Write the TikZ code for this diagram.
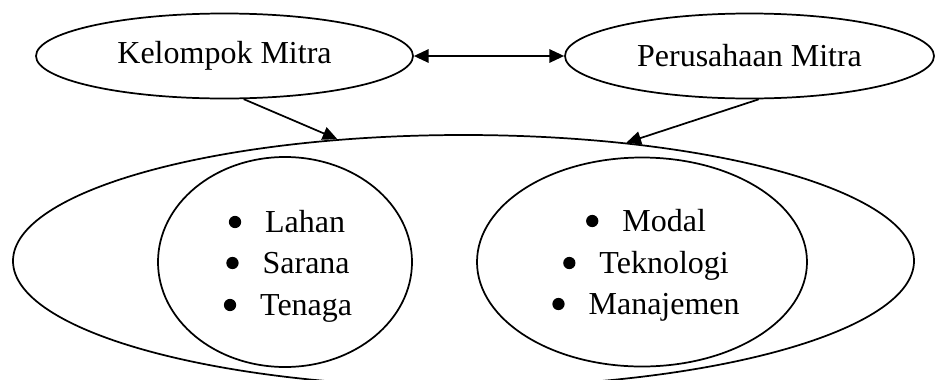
\documentclass[tikz,border=0pt]{standalone}
\usepackage{fontspec}
\setmainfont{Liberation Serif}
\usetikzlibrary{shapes.geometric,arrows.meta}
% round list marker, centred at mid height of the lower-case letters
\newcommand{\dotmark}{\tikz[x=1pt,y=1pt,baseline=-7.5pt]\fill (0,0) circle (4.6pt);}
\begin{document}
\begin{tikzpicture}[x=0.75pt,y=-0.75pt,
  line width=1.3pt,
  oval/.style={draw,ellipse,inner sep=0pt,font=\fontsize{24}{30}\selectfont},
  item/.style={anchor=base,inner sep=0pt,font=\fontsize{24}{30}\selectfont},
  link/.style={-{Triangle[length=11pt,width=10pt]}},
  both/.style={{Triangle[length=11pt,width=10pt]}-{Triangle[length=11pt,width=10pt]}}]
\useasboundingbox (0,0) rectangle (935,379);

% partner nodes
\node[oval,minimum width=282.75pt,minimum height=63.75pt] (km) at (224.5,56) {Kelompok Mitra};
\node[oval,minimum width=276.75pt,minimum height=63.75pt] (pm) at (749.5,56) {Perusahaan Mitra};

% partnership container and the two contribution groups
\node[oval,minimum width=675.75pt,minimum height=189pt] (big) at (463.5,261) {};
\node[oval,minimum width=190.5pt,minimum height=157.5pt] (left) at (285,262) {};
\node[oval,minimum width=247.5pt,minimum height=156.75pt] (right) at (642,262) {};

% contributions of the group
\node[item] (l1) at (287,232) {\dotmark\hspace{18pt}Lahan};
\node[item] (l2) at (288,273) {\dotmark\hspace{18pt}Sarana};
\node[item] (l3) at (288,315) {\dotmark\hspace{18pt}Tenaga};

% contributions of the company
\node[item] (r1) at (646,231) {\dotmark\hspace{18pt}Modal};
\node[item] (r2) at (646,273) {\dotmark\hspace{18pt}Teknologi};
\node[item] (r3) at (646,314) {\dotmark\hspace{18pt}Manajemen};

% connectors
\draw[both] (km.east) -- (pm.west);
\draw[link] (km.-66.6) -- (big.136.5);
\draw[link] (pm.-78.4) -- (big.36.5);
\end{tikzpicture}
\end{document}
